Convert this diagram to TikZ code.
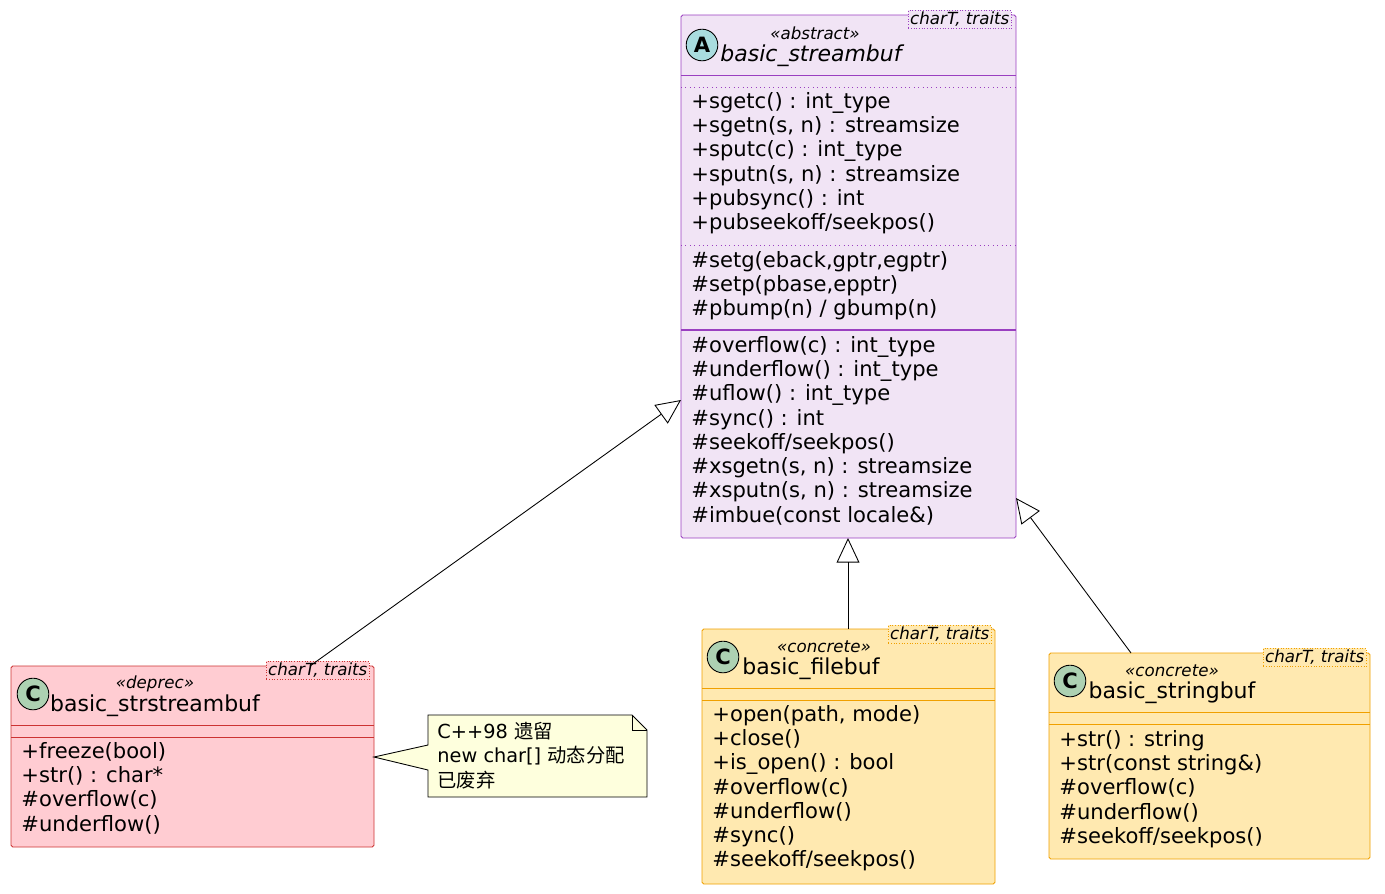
\documentclass[tikz,border=0pt]{standalone}
\usepackage{fontspec}
\setmainfont{DejaVu Sans}
\newfontfamily\cjk{Noto Sans CJK SC}
\usetikzlibrary{arrows.meta}

\definecolor{absfill}{HTML}{F1E4F5}
\definecolor{absline}{HTML}{9A3FC0}
\definecolor{depfill}{HTML}{FFCCD2}
\definecolor{depline}{HTML}{CC3333}
\definecolor{confill}{HTML}{FFE9B0}
\definecolor{conline}{HTML}{F0A000}
\definecolor{notefill}{HTML}{FEFFDD}
\definecolor{spotA}{HTML}{A9DCDF}
\definecolor{spotC}{HTML}{ADD1B2}

\tikzset{
  members/.style = {anchor=north west, inner sep=0, align=left,
    font=\fontsize{12}{13.8}\selectfont},
  stereo/.style = {inner sep=0, font=\fontsize{9.5}{10}\selectfont\itshape},
  cname/.style = {inner sep=0, font=\fontsize{12.5}{13}\selectfont},
  spot/.style = {circle, draw=black, inner sep=0, minimum size=18pt,
    font=\fontsize{12}{12}\selectfont\bfseries},
  tmpl/.style = {draw, densely dotted, inner sep=1pt, anchor=north west,
    font=\fontsize{9.5}{10}\selectfont\itshape},
  inherit/.style = {draw=black, -{Triangle[open, length=14pt, width=13pt]}}
}

\begin{document}
\begin{tikzpicture}[x=0.02cm, y=-0.02cm, line width=0.5pt]
\useasboundingbox (0,0) rectangle (1385,893);

% abstract base class
\draw[absline, fill=absfill, rounded corners=1pt] (681,15) rectangle (1016,538);
\draw[absline] (681,75) -- (1016,75);
\draw[absline, dotted] (681,87) -- (1016,87);
\draw[absline, dotted] (681,245) -- (1016,245);
\draw[absline, thick] (681,330) -- (1016,330);
\node[spot, fill=spotA] (spotA) at (702,45) {A};
\node[stereo] (stA) at (815,33) {«abstract»};
\node[cname, font=\fontsize{12.5}{13}\selectfont\itshape] (nameA) at (811,56) {basic\_streambuf};
\node[tmpl, draw=absline, fill=absfill] (tA) at (908,10) {charT, traits};
\node[members] (pubA) at (691,92) {+sgetc() : int\_type\\+sgetn(s, n) : streamsize\\+sputc(c) : int\_type\\+sputn(s, n) : streamsize\\+pubsync() : int\\+pubseekoff/seekpos()};
\node[members] (protA) at (691,251) {\#setg(eback,gptr,egptr)\\\#setp(pbase,epptr)\\\#pbump(n) / gbump(n)};
\node[members] (virtA) at (691,336) {\#overflow(c) : int\_type\\\#underflow() : int\_type\\\#uflow() : int\_type\\\#sync() : int\\\#seekoff/seekpos()\\\#xsgetn(s, n) : streamsize\\\#xsputn(s, n) : streamsize\\\#imbue(const locale\&)};

% deprecated class
\draw[depline, fill=depfill, rounded corners=1pt] (11,666) rectangle (374,847);
\draw[depline] (11,725) -- (374,725);
\draw[depline] (11,737) -- (374,737);
\node[spot, fill=spotC] (spotS) at (33,694) {C};
\node[stereo] (stS) at (155,684) {«deprec»};
\node[cname] (nameS) at (155,706) {basic\_strstreambuf};
\node[tmpl, draw=depline, fill=depfill] (tS) at (266,661) {charT, traits};
\node[members] (memS) at (21,742) {+freeze(bool)\\+str() : char*\\\#overflow(c)\\\#underflow()};

% note
\draw[black, fill=notefill] (428,715) -- (632,715) -- (647,730) -- (647,797) -- (428,797) -- (428,770) -- (374,757) -- (428,745) -- cycle;
\draw[black] (632,715) -- (632,730) -- (647,730);
\node[members, font=\fontsize{11}{13.8}\selectfont] (note) at (437,722) {C++98 {\cjk 遗留}\\new char[] {\cjk 动态分配}\\{\cjk 已废弃}};

% file buffer
\draw[conline, fill=confill, rounded corners=1pt] (702,629) rectangle (995,884);
\draw[conline] (702,688) -- (995,688);
\draw[conline] (702,700) -- (995,700);
\node[spot, fill=spotC] (spotF) at (723,657) {C};
\node[stereo] (stF) at (824,647) {«concrete»};
\node[cname] (nameF) at (811,669) {basic\_filebuf};
\node[tmpl, draw=conline, fill=confill] (tF) at (888,625) {charT, traits};
\node[members] (memF) at (712,705) {+open(path, mode)\\+close()\\+is\_open() : bool\\\#overflow(c)\\\#underflow()\\\#sync()\\\#seekoff/seekpos()};

% string buffer
\draw[conline, fill=confill, rounded corners=1pt] (1049,653) rectangle (1370,859);
\draw[conline] (1049,712) -- (1370,712);
\draw[conline] (1049,724) -- (1370,724);
\node[spot, fill=spotC] (spotT) at (1070,681) {C};
\node[stereo] (stT) at (1172,671) {«concrete»};
\node[cname] (nameT) at (1172,693) {basic\_stringbuf};
\node[tmpl, draw=conline, fill=confill] (tT) at (1263,648) {charT, traits};
\node[members] (memT) at (1059,730) {+str() : string\\+str(const string\&)\\\#overflow(c)\\\#underflow()\\\#seekoff/seekpos()};

% inheritance
\coordinate (fromS) at (310,666);
\coordinate (toS) at (681,400);
\coordinate (fromF) at (848,629);
\coordinate (toF) at (848,538);
\coordinate (fromT) at (1131,653);
\coordinate (toT) at (1016,498);
\draw[inherit] (fromS) -- (toS);
\draw[inherit] (fromF) -- (toF);
\draw[inherit] (fromT) -- (toT);
\end{tikzpicture}
\end{document}
